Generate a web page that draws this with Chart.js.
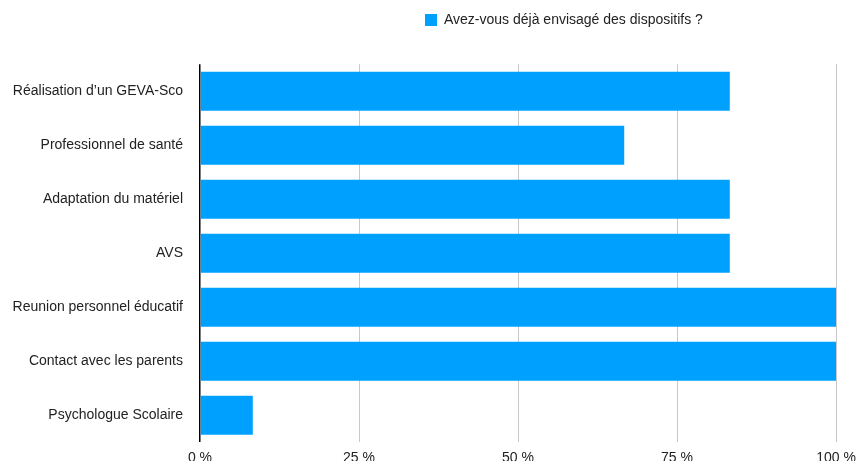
<!DOCTYPE html>
<html>
<head>
<meta charset="utf-8">
<script src="https://cdn.jsdelivr.net/npm/chart.js@4"></script>
<style>
  html, body { margin: 0; padding: 0; background: #fff; overflow: hidden; }
  #wrap { width: 858px; height: 475px; position: relative; }
</style>
</head>
<body>
<div id="wrap"><canvas id="chart"></canvas></div>
<script>
const categories = [
    'Réalisation d\u2019un GEVA-Sco',
    'Professionnel de santé',
    'Adaptation du matériel',
    'AVS',
    'Reunion personnel éducatif',
    'Contact avec les parents',
    'Psychologue Scolaire'
];
const seriesName = 'Avez-vous déjà envisagé des dispositifs ?';
const values = [83.3, 66.7, 83.3, 83.3, 100, 100, 8.3];
const xTicks = [0, 25, 50, 75, 100];

const fontFamily = '"Liberation Sans", Arial, Helvetica, sans-serif';

// the legend sits right of centre in the original
const legendShift = {
    id: 'legendShift',
    afterLayout(chart) {
        const lg = chart.legend;
        if (!lg || !lg.lineWidths) return;
        const pad = lg.options.labels.padding;
        const itemLeft = (lg.left + pad + lg.right - lg.lineWidths[0]) / 2;
        const dx = 425 - itemLeft;
        lg.left += dx;
        lg.right += dx;
    }
};

const ctx = document.getElementById('chart').getContext('2d');
new Chart(ctx, {
    type: 'bar',
    data: {
        labels: categories,
        datasets: [{
            label: seriesName,
            data: values,
            backgroundColor: '#00a0ff',
            borderWidth: 0,
            barPercentage: 0.72,
            categoryPercentage: 1
        }]
    },
    options: {
        indexAxis: 'y',
        responsive: true,
        maintainAspectRatio: false,
        animation: false,
        layout: { padding: { top: 3, right: 22, bottom: 0, left: 0 } },
        plugins: {
            legend: {
                display: true,
                position: 'top',
                weight: 1000,
                labels: {
                    boxWidth: 12,
                    boxHeight: 12,
                    padding: 10,
                    color: '#222',
                    font: { family: fontFamily, size: 14 }
                }
            },
            // empty spacer between legend and plot
            title: {
                display: true,
                text: ' ',
                position: 'top',
                weight: 500,
                font: { size: 1 },
                padding: { top: 0, bottom: 26 }
            },
            tooltip: { enabled: false }
        },
        scales: {
            x: {
                min: 0,
                max: 100,
                afterBuildTicks: function (scale) {
                    scale.ticks = xTicks.map(v => ({ value: v }));
                },
                afterFit: function (scale) { scale.paddingRight = 0; },
                ticks: {
                    color: '#222',
                    padding: 8,
                    font: { family: fontFamily, size: 14 },
                    callback: v => v + ' %'
                },
                grid: {
                    drawTicks: false,
                    color: ctx => ctx.tick && ctx.tick.value === 0 ? '#000' : '#c8c8c8',
                    lineWidth: ctx => ctx.tick && ctx.tick.value === 0 ? 1.5 : 1
                },
                border: { display: false }
            },
            y: {
                afterFit: function (scale) { scale.width = 200; },
                ticks: {
                    color: '#222',
                    padding: 17,
                    font: { family: fontFamily, size: 14 }
                },
                grid: { display: false, drawTicks: false },
                border: { display: false }
            }
        }
    },
    plugins: [legendShift]
});
</script>
</body>
</html>
